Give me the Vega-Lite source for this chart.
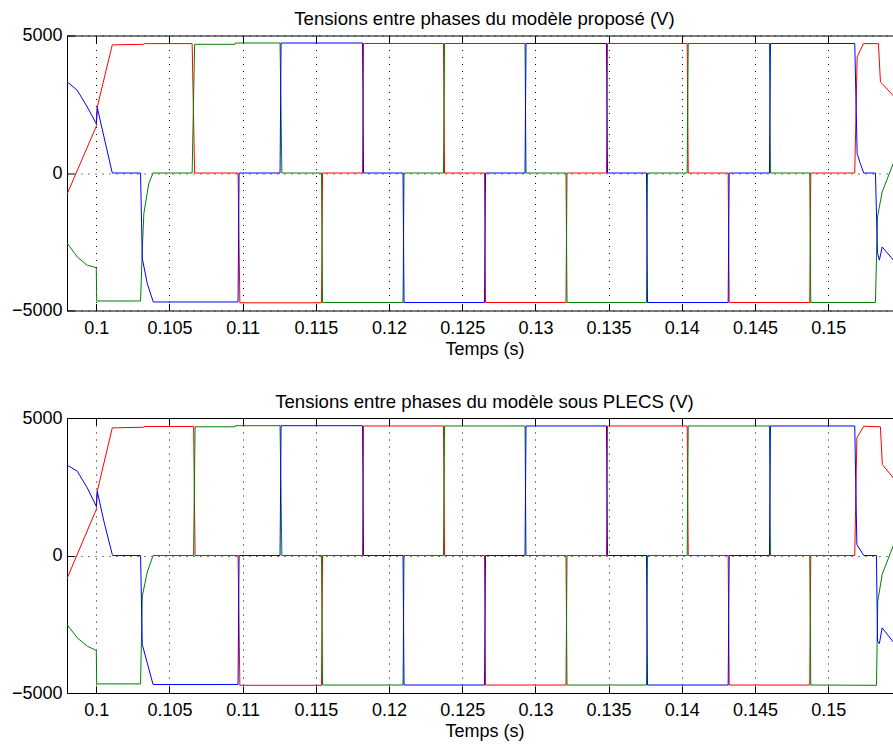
{
  "$schema": "https://vega.github.io/schema/vega-lite/v6.json",
  "background": "white",
  "padding": {"left": 11, "top": 9.5, "right": 0, "bottom": 0},
  "config": {
    "font": "Liberation Sans",
    "view": {"stroke": null},
    "concat": {"spacing": 33.5},
    "title": {"fontSize": 18.6, "fontWeight": "normal", "color": "black", "offset": -2.5, "dx": 4.5},
    "axis": {
      "labelFont": "Liberation Sans", "labelFontSize": 18, "labelColor": "black",
      "titleFont": "Liberation Sans", "titleFontSize": 18, "titleFontWeight": "normal", "titleColor": "black",
      "domainColor": "black", "domainWidth": 1, "tickColor": "black", "tickWidth": 1, "tickSize": -7,
      "gridColor": "black", "gridDash": [1, 6], "gridOpacity": 1, "gridWidth": 1,
      "labelFlush": false, "labelOverlap": false
    },
    "axisX": {"labelPadding": 15.5, "titlePadding": 3},
    "axisY": {"labelPadding": 12}
  },
  "datasets": {
    "top": [
      {"phase": "Uab", "t": 0.098, "u": -775},
      {"phase": "Uab", "t": 0.1, "u": 1698},
      {"phase": "Uab", "t": 0.100068, "u": 2400},
      {"phase": "Uab", "t": 0.101093, "u": 4660},
      {"phase": "Uab", "t": 0.10325, "u": 4680},
      {"phase": "Uab", "t": 0.1033, "u": 4705},
      {"phase": "Uab", "t": 0.10655, "u": 4705},
      {"phase": "Uab", "t": 0.10672, "u": 0},
      {"phase": "Uab", "t": 0.109686, "u": 0},
      {"phase": "Uab", "t": 0.10981, "u": -4720},
      {"phase": "Uab", "t": 0.115389, "u": -4720},
      {"phase": "Uab", "t": 0.115459, "u": 0},
      {"phase": "Uab", "t": 0.11819, "u": 0},
      {"phase": "Uab", "t": 0.11826, "u": 4710},
      {"phase": "Uab", "t": 0.123723, "u": 4710},
      {"phase": "Uab", "t": 0.123793, "u": 0},
      {"phase": "Uab", "t": 0.126523, "u": 0},
      {"phase": "Uab", "t": 0.126593, "u": -4710},
      {"phase": "Uab", "t": 0.13209, "u": -4710},
      {"phase": "Uab", "t": 0.13216, "u": 0},
      {"phase": "Uab", "t": 0.134857, "u": 0},
      {"phase": "Uab", "t": 0.134927, "u": 4710},
      {"phase": "Uab", "t": 0.140369, "u": 4710},
      {"phase": "Uab", "t": 0.140439, "u": 0},
      {"phase": "Uab", "t": 0.143169, "u": 0},
      {"phase": "Uab", "t": 0.143239, "u": -4710},
      {"phase": "Uab", "t": 0.148743, "u": -4710},
      {"phase": "Uab", "t": 0.148813, "u": 0},
      {"phase": "Uab", "t": 0.151817, "u": 0},
      {"phase": "Uab", "t": 0.151981, "u": 4218},
      {"phase": "Uab", "t": 0.152411, "u": 4705},
      {"phase": "Uab", "t": 0.153436, "u": 4705},
      {"phase": "Uab", "t": 0.153572, "u": 3309},
      {"phase": "Uab", "t": 0.153689, "u": 3250},
      {"phase": "Uab", "t": 0.1545, "u": 2780},

      {"phase": "Ubc", "t": 0.098, "u": -2540},
      {"phase": "Ubc", "t": 0.098702, "u": -3054},
      {"phase": "Ubc", "t": 0.099385, "u": -3356},
      {"phase": "Ubc", "t": 0.1, "u": -3440},
      {"phase": "Ubc", "t": 0.10003, "u": -4654},
      {"phase": "Ubc", "t": 0.103026, "u": -4654},
      {"phase": "Ubc", "t": 0.103142, "u": -2810},
      {"phase": "Ubc", "t": 0.103251, "u": -1466},
      {"phase": "Ubc", "t": 0.103593, "u": -375},
      {"phase": "Ubc", "t": 0.10388, "u": 0},
      {"phase": "Ubc", "t": 0.10655, "u": 0},
      {"phase": "Ubc", "t": 0.10672, "u": 4680},
      {"phase": "Ubc", "t": 0.10948, "u": 4680},
      {"phase": "Ubc", "t": 0.1095, "u": 4727},
      {"phase": "Ubc", "t": 0.112555, "u": 4727},
      {"phase": "Ubc", "t": 0.11268, "u": 0},
      {"phase": "Ubc", "t": 0.115389, "u": 0},
      {"phase": "Ubc", "t": 0.115459, "u": -4710},
      {"phase": "Ubc", "t": 0.120956, "u": -4710},
      {"phase": "Ubc", "t": 0.121026, "u": 0},
      {"phase": "Ubc", "t": 0.123723, "u": 0},
      {"phase": "Ubc", "t": 0.123793, "u": 4710},
      {"phase": "Ubc", "t": 0.12929, "u": 4710},
      {"phase": "Ubc", "t": 0.12936, "u": 0},
      {"phase": "Ubc", "t": 0.13209, "u": 0},
      {"phase": "Ubc", "t": 0.13216, "u": -4710},
      {"phase": "Ubc", "t": 0.137589, "u": -4710},
      {"phase": "Ubc", "t": 0.137659, "u": 0},
      {"phase": "Ubc", "t": 0.140369, "u": 0},
      {"phase": "Ubc", "t": 0.140439, "u": 4710},
      {"phase": "Ubc", "t": 0.14599, "u": 4710},
      {"phase": "Ubc", "t": 0.14606, "u": 0},
      {"phase": "Ubc", "t": 0.148743, "u": 0},
      {"phase": "Ubc", "t": 0.148813, "u": -4710},
      {"phase": "Ubc", "t": 0.153231, "u": -4710},
      {"phase": "Ubc", "t": 0.153368, "u": -1600},
      {"phase": "Ubc", "t": 0.153689, "u": -691},
      {"phase": "Ubc", "t": 0.1545, "u": 420},

      {"phase": "Uca", "t": 0.098, "u": 3320},
      {"phase": "Uca", "t": 0.098702, "u": 3007},
      {"phase": "Uca", "t": 0.099385, "u": 2400},
      {"phase": "Uca", "t": 0.1, "u": 1796},
      {"phase": "Uca", "t": 0.100068, "u": 2378},
      {"phase": "Uca", "t": 0.101093, "u": 0},
      {"phase": "Uca", "t": 0.103026, "u": 0},
      {"phase": "Uca", "t": 0.103142, "u": -3100},
      {"phase": "Uca", "t": 0.103484, "u": -4022},
      {"phase": "Uca", "t": 0.103894, "u": -4690},
      {"phase": "Uca", "t": 0.109686, "u": -4690},
      {"phase": "Uca", "t": 0.109756, "u": 0},
      {"phase": "Uca", "t": 0.112555, "u": 0},
      {"phase": "Uca", "t": 0.112625, "u": 4727},
      {"phase": "Uca", "t": 0.11819, "u": 4727},
      {"phase": "Uca", "t": 0.11826, "u": 0},
      {"phase": "Uca", "t": 0.120956, "u": 0},
      {"phase": "Uca", "t": 0.121026, "u": -4710},
      {"phase": "Uca", "t": 0.126523, "u": -4710},
      {"phase": "Uca", "t": 0.126593, "u": 0},
      {"phase": "Uca", "t": 0.12929, "u": 0},
      {"phase": "Uca", "t": 0.12936, "u": 4710},
      {"phase": "Uca", "t": 0.134857, "u": 4710},
      {"phase": "Uca", "t": 0.134927, "u": 0},
      {"phase": "Uca", "t": 0.137589, "u": 0},
      {"phase": "Uca", "t": 0.137659, "u": -4710},
      {"phase": "Uca", "t": 0.143169, "u": -4710},
      {"phase": "Uca", "t": 0.143239, "u": 0},
      {"phase": "Uca", "t": 0.14599, "u": 0},
      {"phase": "Uca", "t": 0.14606, "u": 4710},
      {"phase": "Uca", "t": 0.151817, "u": 4710},
      {"phase": "Uca", "t": 0.151981, "u": 705},
      {"phase": "Uca", "t": 0.1522, "u": 342},
      {"phase": "Uca", "t": 0.15243, "u": 0},
      {"phase": "Uca", "t": 0.153231, "u": 0},
      {"phase": "Uca", "t": 0.15337, "u": -2900},
      {"phase": "Uca", "t": 0.1535, "u": -3170},
      {"phase": "Uca", "t": 0.153689, "u": -2690},
      {"phase": "Uca", "t": 0.1545, "u": -3190}
    ],
    "bottom": [
      {"phase": "Uab", "t": 0.098, "u": -840},
      {"phase": "Uab", "t": 0.1, "u": 1673},
      {"phase": "Uab", "t": 0.100068, "u": 2338},
      {"phase": "Uab", "t": 0.101093, "u": 4640},
      {"phase": "Uab", "t": 0.10325, "u": 4665},
      {"phase": "Uab", "t": 0.1033, "u": 4690},
      {"phase": "Uab", "t": 0.10665, "u": 4690},
      {"phase": "Uab", "t": 0.10675, "u": 0},
      {"phase": "Uab", "t": 0.109686, "u": 0},
      {"phase": "Uab", "t": 0.10981, "u": -4720},
      {"phase": "Uab", "t": 0.115389, "u": -4720},
      {"phase": "Uab", "t": 0.115459, "u": 0},
      {"phase": "Uab", "t": 0.11819, "u": 0},
      {"phase": "Uab", "t": 0.11826, "u": 4710},
      {"phase": "Uab", "t": 0.123723, "u": 4710},
      {"phase": "Uab", "t": 0.123793, "u": 0},
      {"phase": "Uab", "t": 0.126523, "u": 0},
      {"phase": "Uab", "t": 0.126593, "u": -4710},
      {"phase": "Uab", "t": 0.13209, "u": -4710},
      {"phase": "Uab", "t": 0.13216, "u": 0},
      {"phase": "Uab", "t": 0.134857, "u": 0},
      {"phase": "Uab", "t": 0.134927, "u": 4710},
      {"phase": "Uab", "t": 0.140369, "u": 4710},
      {"phase": "Uab", "t": 0.140439, "u": 0},
      {"phase": "Uab", "t": 0.143169, "u": 0},
      {"phase": "Uab", "t": 0.143239, "u": -4710},
      {"phase": "Uab", "t": 0.148743, "u": -4710},
      {"phase": "Uab", "t": 0.148813, "u": 0},
      {"phase": "Uab", "t": 0.151817, "u": 0},
      {"phase": "Uab", "t": 0.15196, "u": 4276},
      {"phase": "Uab", "t": 0.15243, "u": 4700},
      {"phase": "Uab", "t": 0.15357, "u": 4680},
      {"phase": "Uab", "t": 0.1537, "u": 3309},
      {"phase": "Uab", "t": 0.1545, "u": 2790},

      {"phase": "Ubc", "t": 0.098, "u": -2510},
      {"phase": "Ubc", "t": 0.098702, "u": -2996},
      {"phase": "Ubc", "t": 0.099385, "u": -3298},
      {"phase": "Ubc", "t": 0.1, "u": -3454},
      {"phase": "Ubc", "t": 0.10003, "u": -4669},
      {"phase": "Ubc", "t": 0.103026, "u": -4669},
      {"phase": "Ubc", "t": 0.103142, "u": -1480},
      {"phase": "Ubc", "t": 0.103484, "u": -600},
      {"phase": "Ubc", "t": 0.10388, "u": 0},
      {"phase": "Ubc", "t": 0.10665, "u": 0},
      {"phase": "Ubc", "t": 0.10675, "u": 4680},
      {"phase": "Ubc", "t": 0.10948, "u": 4680},
      {"phase": "Ubc", "t": 0.1095, "u": 4720},
      {"phase": "Ubc", "t": 0.112555, "u": 4720},
      {"phase": "Ubc", "t": 0.11268, "u": 0},
      {"phase": "Ubc", "t": 0.115389, "u": 0},
      {"phase": "Ubc", "t": 0.115459, "u": -4710},
      {"phase": "Ubc", "t": 0.120956, "u": -4710},
      {"phase": "Ubc", "t": 0.121026, "u": 0},
      {"phase": "Ubc", "t": 0.123723, "u": 0},
      {"phase": "Ubc", "t": 0.123793, "u": 4710},
      {"phase": "Ubc", "t": 0.12929, "u": 4710},
      {"phase": "Ubc", "t": 0.12936, "u": 0},
      {"phase": "Ubc", "t": 0.13209, "u": 0},
      {"phase": "Ubc", "t": 0.13216, "u": -4710},
      {"phase": "Ubc", "t": 0.137589, "u": -4710},
      {"phase": "Ubc", "t": 0.137659, "u": 0},
      {"phase": "Ubc", "t": 0.140369, "u": 0},
      {"phase": "Ubc", "t": 0.140439, "u": 4710},
      {"phase": "Ubc", "t": 0.14599, "u": 4710},
      {"phase": "Ubc", "t": 0.14606, "u": 0},
      {"phase": "Ubc", "t": 0.148743, "u": 0},
      {"phase": "Ubc", "t": 0.148813, "u": -4710},
      {"phase": "Ubc", "t": 0.1533, "u": -4720},
      {"phase": "Ubc", "t": 0.15339, "u": -1662},
      {"phase": "Ubc", "t": 0.153689, "u": -691},
      {"phase": "Ubc", "t": 0.1545, "u": 430},

      {"phase": "Uca", "t": 0.098, "u": 3290},
      {"phase": "Uca", "t": 0.098702, "u": 3065},
      {"phase": "Uca", "t": 0.099385, "u": 2458},
      {"phase": "Uca", "t": 0.1, "u": 1793},
      {"phase": "Uca", "t": 0.100068, "u": 2338},
      {"phase": "Uca", "t": 0.100519, "u": 1247},
      {"phase": "Uca", "t": 0.101093, "u": 36},
      {"phase": "Uca", "t": 0.10112, "u": 0},
      {"phase": "Uca", "t": 0.103026, "u": 0},
      {"phase": "Uca", "t": 0.103142, "u": -3236},
      {"phase": "Uca", "t": 0.10388, "u": -4690},
      {"phase": "Uca", "t": 0.109686, "u": -4690},
      {"phase": "Uca", "t": 0.109756, "u": 0},
      {"phase": "Uca", "t": 0.112555, "u": 0},
      {"phase": "Uca", "t": 0.112625, "u": 4720},
      {"phase": "Uca", "t": 0.11819, "u": 4720},
      {"phase": "Uca", "t": 0.11826, "u": 0},
      {"phase": "Uca", "t": 0.120956, "u": 0},
      {"phase": "Uca", "t": 0.121026, "u": -4710},
      {"phase": "Uca", "t": 0.126523, "u": -4710},
      {"phase": "Uca", "t": 0.126593, "u": 0},
      {"phase": "Uca", "t": 0.12929, "u": 0},
      {"phase": "Uca", "t": 0.12936, "u": 4710},
      {"phase": "Uca", "t": 0.134857, "u": 4710},
      {"phase": "Uca", "t": 0.134927, "u": 0},
      {"phase": "Uca", "t": 0.137589, "u": 0},
      {"phase": "Uca", "t": 0.137659, "u": -4710},
      {"phase": "Uca", "t": 0.143169, "u": -4710},
      {"phase": "Uca", "t": 0.143239, "u": 0},
      {"phase": "Uca", "t": 0.14599, "u": 0},
      {"phase": "Uca", "t": 0.14606, "u": 4710},
      {"phase": "Uca", "t": 0.151817, "u": 4710},
      {"phase": "Uca", "t": 0.15196, "u": 400},
      {"phase": "Uca", "t": 0.15243, "u": 0},
      {"phase": "Uca", "t": 0.1533, "u": 0},
      {"phase": "Uca", "t": 0.15337, "u": -3116},
      {"phase": "Uca", "t": 0.1535, "u": -3200},
      {"phase": "Uca", "t": 0.153689, "u": -2632},
      {"phase": "Uca", "t": 0.1545, "u": -3178}
    ]
  },
  "vconcat": [
    {
      "title": "Tensions entre phases du modèle proposé (V)",
      "width": 826,
      "height": 275,
      "data": {"name": "top"},
      "layer": [
        {
          "mark": {"type": "line", "strokeWidth": 1, "clip": true},
          "encoding": {
            "x": {"field": "t", "type": "quantitative", "scale": {"domain": [0.098, 0.15443], "nice": false, "zero": false},
                  "axis": {"orient": "bottom", "title": "Temps (s)", "titleX": 417.5, "format": "~g", "grid": true,
                           "values": [0.1, 0.105, 0.11, 0.115, 0.12, 0.125, 0.13, 0.135, 0.14, 0.145, 0.15]}},
            "y": {"field": "u", "type": "quantitative", "scale": {"domain": [-5000, 5000], "nice": false},
                  "axis": {"orient": "left", "title": null, "format": "d", "grid": true, "values": [-5000, 0, 5000]}},
            "color": {"field": "phase", "type": "nominal", "legend": null,
                      "scale": {"domain": ["Uab", "Ubc", "Uca"], "range": ["#ff0000", "#008000", "#0000ff"]}}
          }
        },
        {
          "mark": {"type": "line", "opacity": 0},
          "encoding": {
            "x": {"field": "t", "type": "quantitative",
                  "axis": {"orient": "top", "title": null, "labels": false, "grid": false,
                           "values": [0.1, 0.105, 0.11, 0.115, 0.12, 0.125, 0.13, 0.135, 0.14, 0.145, 0.15]}},
            "y": {"field": "u", "type": "quantitative",
                  "axis": {"orient": "left", "title": null, "format": "d", "grid": true, "values": [-5000, 0, 5000]}},
            "detail": {"field": "phase"}
          }
        }
      ]
    },
    {
      "title": "Tensions entre phases du modèle sous PLECS (V)",
      "width": 826,
      "height": 275,
      "data": {"name": "bottom"},
      "layer": [
        {
          "mark": {"type": "line", "strokeWidth": 1, "clip": true},
          "encoding": {
            "x": {"field": "t", "type": "quantitative", "scale": {"domain": [0.098, 0.15443], "nice": false, "zero": false},
                  "axis": {"orient": "bottom", "title": "Temps (s)", "titleX": 417.5, "format": "~g", "grid": true,
                           "values": [0.1, 0.105, 0.11, 0.115, 0.12, 0.125, 0.13, 0.135, 0.14, 0.145, 0.15]}},
            "y": {"field": "u", "type": "quantitative", "scale": {"domain": [-5000, 5000], "nice": false},
                  "axis": {"orient": "left", "title": null, "format": "d", "grid": true, "values": [-5000, 0, 5000]}},
            "color": {"field": "phase", "type": "nominal", "legend": null,
                      "scale": {"domain": ["Uab", "Ubc", "Uca"], "range": ["#ff0000", "#008000", "#0000ff"]}}
          }
        },
        {
          "mark": {"type": "line", "opacity": 0},
          "encoding": {
            "x": {"field": "t", "type": "quantitative",
                  "axis": {"orient": "top", "title": null, "labels": false, "grid": false,
                           "values": [0.1, 0.105, 0.11, 0.115, 0.12, 0.125, 0.13, 0.135, 0.14, 0.145, 0.15]}},
            "y": {"field": "u", "type": "quantitative",
                  "axis": {"orient": "left", "title": null, "format": "d", "grid": true, "values": [-5000, 0, 5000]}},
            "detail": {"field": "phase"}
          }
        }
      ]
    }
  ]
}
